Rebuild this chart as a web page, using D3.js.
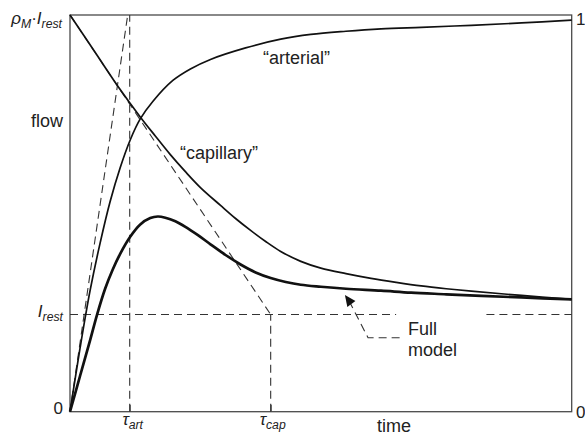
<!DOCTYPE html>
<html><head><meta charset="utf-8">
<script src="https://cdn.jsdelivr.net/npm/d3@7"></script>
<style>body{margin:0;background:#fff}svg{display:block}text{font-family:"Liberation Sans",Arial,sans-serif;fill:#222}</style>
</head><body>
<svg id="c" width="585" height="436"></svg>
<script>
// time in arbitrary units (0..100), flow normalised to rho_M*I_rest = 1
const tauArt = 11.9;
const tauCap = 40;
const iRest = 0.245;
const arterialT = [0, 2, 4, 6, 8, 10, 12, 14, 16.5, 20.5, 24, 28, 35, 42, 48, 55, 62, 70, 80, 90, 100];
const arterialV = [0, 0.16, 0.305, 0.425, 0.53, 0.615, 0.685, 0.738, 0.782, 0.835, 0.864, 0.888, 0.917, 0.939, 0.951, 0.959, 0.965, 0.969, 0.974, 0.980, 0.987];
const capillaryT = [0, 5, 10, 14, 17, 20, 23, 26, 30, 33, 36, 39, 42, 46, 50, 55, 60, 65, 70, 75, 80, 90, 100];
const capillaryV = [1.0, 0.906, 0.812, 0.743, 0.695, 0.648, 0.605, 0.565, 0.52, 0.487, 0.457, 0.429, 0.404, 0.379, 0.362, 0.348, 0.336, 0.326, 0.317, 0.310, 0.304, 0.293, 0.283];
const fullT = [0, 2, 4, 5.4, 7, 8.5, 10, 12, 14, 16, 17.5, 19, 21, 23, 25.5, 28, 31, 34, 37, 40, 43, 46, 50, 55, 62, 68, 75, 82, 90, 100];
const fullV = [0, 0.09, 0.18, 0.245, 0.31, 0.358, 0.398, 0.441, 0.472, 0.488, 0.492, 0.489, 0.480, 0.466, 0.445, 0.422, 0.395, 0.371, 0.351, 0.337, 0.327, 0.320, 0.315, 0.310, 0.305, 0.300, 0.296, 0.292, 0.288, 0.283];
const restSegments = [[0, 65], [83, 100]];
const arrowPath = [[65.7, 0.1865], [59.4, 0.1865], [55.6, 0.28]];
const arrowTip = [54.8, 0.294];

const svg = d3.select("#c");
const x = d3.scaleLinear().domain([0, 100]).range([70, 571.7]);
const y = d3.scaleLinear().domain([0, 1]).range([411.7, 15]);
const line = d3.line().x(d => x(d[0])).y(d => y(d[1])).curve(d3.curveCatmullRom.alpha(0.5));
const straight = d3.line().x(d => x(d[0])).y(d => y(d[1]));
const zip = (a, b) => a.map((v, i) => [v, b[i]]);
const dash = "8,5";

// frame
svg.append("rect").attr("x", x(0)).attr("y", y(1)).attr("width", x(100) - x(0)).attr("height", y(0) - y(1))
  .attr("fill", "none").attr("stroke", "#4a4a4a").attr("stroke-width", 1.3);
// bottom ticks
const ax = svg.append("g").attr("transform", `translate(0,${y(0)})`)
  .call(d3.axisBottom(x).tickValues([tauArt, tauCap]).tickSize(-7).tickFormat(""));
ax.select(".domain").remove();
ax.selectAll("line").attr("stroke", "#4a4a4a").attr("stroke-width", 1.2);

// dashed guides
const g = svg.append("g").attr("fill", "none").attr("stroke", "#333").attr("stroke-width", 1.1).attr("stroke-dasharray", dash);
g.append("path").attr("d", straight([[tauArt, 0], [tauArt, 1]]));
g.append("path").attr("d", straight([[tauCap, 0], [tauCap, iRest]]));
restSegments.forEach(s => g.append("path").attr("d", straight([[s[0], iRest], [s[1], iRest]])));
g.append("path").attr("d", straight([[0, 0], [11.5, 1]]));
g.append("path").attr("d", straight([[0, 1], [tauCap, iRest]]));
g.append("path").attr("d", straight(arrowPath));

// arrow head
{
  const tx = x(arrowTip[0]), ty = y(arrowTip[1]);
  const bx = x(arrowPath[2][0]), by = y(arrowPath[2][1]);
  const dx = tx - bx, dy = ty - by, L = Math.hypot(dx, dy);
  const ux = dx / L, uy = dy / L, len = 11, w = 5;
  const px = tx - ux * len, py = ty - uy * len;
  svg.append("path").attr("d", `M${tx},${ty}L${px - uy * w},${py + ux * w}L${px + uy * w},${py - ux * w}Z`).attr("fill", "#111");
}

// curves
svg.append("path").attr("d", line(zip(arterialT, arterialV))).attr("fill", "none").attr("stroke", "#111").attr("stroke-width", 1.7);
svg.append("path").attr("d", line(zip(capillaryT, capillaryV))).attr("fill", "none").attr("stroke", "#111").attr("stroke-width", 1.7);
svg.append("path").attr("d", line(zip(fullT, fullV))).attr("fill", "none").attr("stroke", "#111").attr("stroke-width", 2.7);

// texts
function txt(px, py, anchor, parts, size) {
  const t = svg.append("text").attr("x", px).attr("y", py).attr("text-anchor", anchor).attr("font-size", size);
  parts.forEach(p => {
    const s = t.append("tspan").text(p.t);
    if (p.i) s.attr("font-style", "italic");
    if (p.sub) s.attr("font-size", size * 0.72).attr("dy", 4);
    if (p.up) s.attr("dy", -4);
  });
  return t;
}
txt(62, 24, "end", [{t: "ρ", i: 1}, {t: "M", i: 1, sub: 1}, {t: "·", up: 1}, {t: "I", i: 1}, {t: "rest", i: 1, sub: 1}], 17);
txt(63, 127, "end", [{t: "flow"}], 18);
txt(63, 317, "end", [{t: "I", i: 1}, {t: "rest", i: 1, sub: 1}], 17);
txt(63, 414, "end", [{t: "0"}], 17);
txt(576, 25, "start", [{t: "1"}], 17);
txt(576, 418, "start", [{t: "0"}], 17);
txt(x(tauArt) + 3, 425, "middle", [{t: "τ", i: 1}, {t: "art", i: 1, sub: 1}], 17);
txt(x(tauCap) + 2, 425, "middle", [{t: "τ", i: 1}, {t: "cap", i: 1, sub: 1}], 17);
txt(377, 432, "start", [{t: "time"}], 18);
txt(263, 64, "start", [{t: "“arterial”"}], 18);
txt(180, 159, "start", [{t: "“capillary”"}], 18);
txt(408, 335, "start", [{t: "Full"}], 18);
txt(408, 356, "start", [{t: "model"}], 18);
</script>
</body></html>
